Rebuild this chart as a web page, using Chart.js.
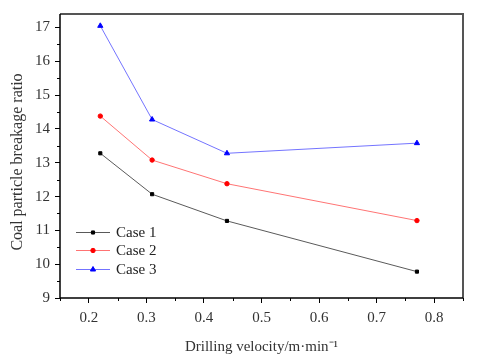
<!DOCTYPE html>
<html>
<head>
<meta charset="utf-8">
<script src="https://cdn.jsdelivr.net/npm/chart.js@4"></script>
<style>
  html, body { margin: 0; padding: 0; background: #fff; }
  #wrap { width: 480px; height: 360px; }
</style>
</head>
<body>
<div id="wrap"><canvas id="c" width="480" height="360"></canvas></div>
<script>
"use strict";

// drilling velocity (m/min)
const velocity = [0.22, 0.31, 0.44, 0.77];
const case1 = [13.28, 12.07, 11.28, 9.78];
const case2 = [14.38, 13.08, 12.38, 11.29];
const case3 = [17.05, 14.28, 13.28, 13.58];
const seriesNames = ["Case 1", "Case 2", "Case 3"];

const xTicks = [0.2, 0.3, 0.4, 0.5, 0.6, 0.7, 0.8];
const yTicks = [9, 10, 11, 12, 13, 14, 15, 16, 17];
const xMinor = [0.15, 0.25, 0.35, 0.45, 0.55, 0.65, 0.75, 0.85];
const yMinor = [9.5, 10.5, 11.5, 12.5, 13.5, 14.5, 15.5, 16.5];

const FONT = "'Liberation Serif', 'Times New Roman', serif";

const toPts = (ys) => velocity.map((x, i) => ({ x, y: ys[i] }));

// box frame, minor ticks, legend inside the plot
const framePlugin = {
  id: "frame",
  afterDraw(chart) {
    const { ctx, chartArea: a, scales } = chart;
    ctx.save();
    ctx.strokeStyle = "#555";
    ctx.lineWidth = 2;
    ctx.beginPath();
    ctx.moveTo(a.left, a.top);
    ctx.lineTo(a.right, a.top);
    ctx.lineTo(a.right, a.bottom);
    ctx.stroke();
    ctx.strokeStyle = "#000";
    ctx.lineWidth = 1.5;
    ctx.beginPath();
    ctx.moveTo(a.left, a.top);
    ctx.lineTo(a.left, a.bottom);
    ctx.lineTo(a.right, a.bottom);
    ctx.stroke();

    // minor ticks
    ctx.lineWidth = 1;
    ctx.beginPath();
    xMinor.forEach((v) => {
      const px = Math.round(scales.x.getPixelForValue(v)) + 0.5;
      ctx.moveTo(px, a.bottom);
      ctx.lineTo(px, a.bottom + 3);
    });
    yMinor.forEach((v) => {
      const py = Math.round(scales.y.getPixelForValue(v)) + 0.5;
      ctx.moveTo(a.left, py);
      ctx.lineTo(a.left - 3, py);
    });
    ctx.stroke();

    // legend
    const lx = a.left + 16;
    const rows = [232, 250, 269];
    ctx.font = "15px " + FONT;
    ctx.textBaseline = "middle";
    chart.data.datasets.forEach((ds, i) => {
      const y = rows[i];
      ctx.strokeStyle = ds.borderColor;
      ctx.lineWidth = 1;
      ctx.beginPath();
      ctx.moveTo(lx, y + 0.5);
      ctx.lineTo(lx + 34, y + 0.5);
      ctx.stroke();
      ctx.fillStyle = ds.pointBackgroundColor;
      ctx.strokeStyle = ds.pointBorderColor;
      Chart.helpers.drawPoint(ctx, {
        pointStyle: ds.pointStyle,
        radius: ds.pointRadius,
        borderWidth: 1,
      }, lx + 17, y + 0.5);
      ctx.fillStyle = "#222";
      ctx.fillText(ds.label, lx + 40, y + 1);
    });
    ctx.restore();
  },
};

function makeDataset(label, ys, line, color, style, r) {
  return {
    label,
    data: toPts(ys),
    borderColor: line,
    backgroundColor: color,
    pointBackgroundColor: color,
    pointBorderColor: color,
    borderWidth: 1,
    pointStyle: style,
    pointRadius: r,
    pointBorderWidth: 1,
    tension: 0,
  };
}

new Chart(document.getElementById("c"), {
  type: "line",
  data: {
    datasets: [
      makeDataset(seriesNames[0], case1, "rgba(0,0,0,0.65)", "#000000", "rect", 2.2),
      makeDataset(seriesNames[1], case2, "rgba(255,0,0,0.55)", "#ff0000", "circle", 2.2),
      makeDataset(seriesNames[2], case3, "rgba(0,0,255,0.55)", "#0000ff", "triangle", 3),
    ],
  },
  options: {
    responsive: false,
    animation: false,
    layout: { padding: { top: 7, right: 17, left: 0, bottom: 0 } },
    plugins: { legend: { display: false }, tooltip: { enabled: false } },
    scales: {
      x: {
        type: "linear",
        min: 0.15,
        max: 0.85,
        afterBuildTicks: (s) => { s.ticks = xTicks.map((v) => ({ value: v })); },
        afterFit: (s) => { s.height = 62; },
        grid: { drawOnChartArea: false, drawTicks: true, tickLength: 5, color: "#000" },
        border: { display: false },
        ticks: {
          color: "#333",
          padding: 6,
          font: { family: FONT, size: 15 },
          callback: (v) => v.toFixed(1),
        },
        title: {
          display: true,
          text: "Drilling velocity/m·min⁻¹",
          color: "#333",
          font: { family: FONT, size: 15 },
          padding: { top: 3 },
        },
      },
      y: {
        min: 9,
        max: 17.4,
        afterBuildTicks: (s) => { s.ticks = yTicks.map((v) => ({ value: v })); },
        afterFit: (s) => { s.width = 60; },
        grid: { drawOnChartArea: false, drawTicks: true, tickLength: 5, color: "#000" },
        border: { display: false },
        ticks: {
          color: "#333",
          padding: 5,
          font: { family: FONT, size: 15 },
        },
        title: {
          display: true,
          text: "Coal particle breakage ratio   ",
          color: "#333",
          font: { family: FONT, size: 16 },
          padding: { bottom: 0, top: 8 },
        },
      },
    },
  },
  plugins: [framePlugin],
});
</script>
</body>
</html>
